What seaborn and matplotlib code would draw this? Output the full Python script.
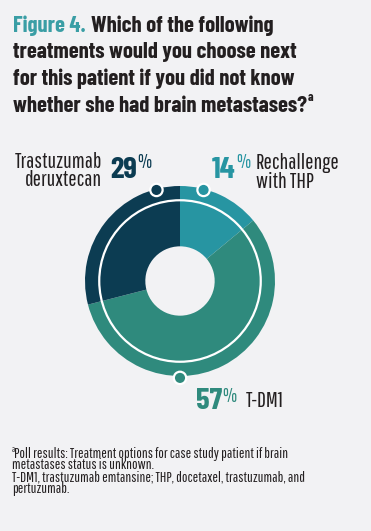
import matplotlib
matplotlib.use("Agg")
import matplotlib.pyplot as plt
from matplotlib import font_manager as fm
from matplotlib.patches import Circle
import numpy as np
import seaborn as sns

# ---------------- data ----------------
categories = ["Rechallenge\nwith THP", "T-DM1", "Trastuzumab\nderuxtecan"]
shares = [14, 57, 29]
pct_labels = ["14", "57", "29"]
title_lead = "Figure 4."
title_lines = ["Which of the following",
               "treatments would you choose next",
               "for this patient if you did not know",
               "whether she had brain metastases?"]
foot_mark = "a"
foot_lines = [" Poll results: Treatment options for case study patient if brain",
              "metastases status is unknown.",
              "T-DM1, trastuzumab emtansine; THP, docetaxel, trastuzumab, and",
              "pertuzumab."]

# ---------------- style ----------------
sns.set_theme(style="white")
BG = "#f2f2f4"
DARK = "#231f20"
seg_colors = ["#2795a2", "#2f8a7d", "#0c3c52"]
TITLE_TEAL = "#3a9ea5"


def pick(cands):
    for c in cands:
        try:
            fm.findfont(fm.FontProperties(family=c), fallback_to_default=False)
            return c
        except Exception:
            pass
    return "DejaVu Sans"


FONT = pick(["Barlow Condensed", "Fira Sans Extra Condensed", "Roboto Condensed",
             "Liberation Sans Narrow"])
LFONT = pick(["Pathway Gothic One", "Saira Extra Condensed", "Oswald",
              "Barlow Condensed", "Liberation Sans Narrow"])
plt.rcParams["font.family"] = [FONT, "DejaVu Sans"]

W, H = 371, 531
fig = plt.figure(figsize=(W / 100, H / 100), dpi=100, facecolor=BG)
renderer = fig.canvas.get_renderer()


def P(x, y):
    return x / W, 1 - y / H


def txt(x, y, s, **kw):
    kw.setdefault("va", "baseline")
    kw.setdefault("color", DARK)
    return fig.text(*P(x, y), s, **kw)


def right_of(t, gap_px):
    bb = t.get_window_extent(renderer=renderer)
    return bb.x1 + gap_px


def fit_size(s, target_px, family, weight="normal"):
    t = fig.text(0, 0, s, fontsize=10, family=family, fontweight=weight)
    w = t.get_window_extent(renderer=renderer).width
    t.remove()
    return 10 * target_px / w


def set_step(t, step_px):
    """tune linespacing so consecutive baselines are step_px apart"""
    lines = t.get_text().split("\n")
    n = len(lines)
    probe = fig.text(0, 0, lines[0], fontproperties=t.get_fontproperties())
    h_one = probe.get_window_extent(renderer=renderer).height
    probe.remove()
    ls = 1.0
    for _ in range(4):
        t.set_linespacing(ls)
        h_all = t.get_window_extent(renderer=renderer).height
        cur = (h_all - h_one) / (n - 1)
        ls *= step_px / cur


# ---------------- title ----------------
TS = 16.3
t0 = txt(13, 32, title_lead, fontsize=TS, fontweight="bold", color=TITLE_TEAL)
txt(right_of(t0, 5), 32, title_lines[0], fontsize=TS, fontweight="bold")
ys = [58.5, 85, 111.7]
for yy, line in zip(ys, title_lines[1:]):
    tl = txt(13, yy, line, fontsize=TS, fontweight="bold")
txt(right_of(tl, 1), 101, "a", fontsize=9, fontweight="bold")

# ---------------- donut ----------------
cx, cy, R = 180, 281, 95
lim = 1.1
half = lim * R
ax = fig.add_axes([(cx - half) / W, (H - cy - half) / H, 2 * half / W, 2 * half / H])
ax.set_facecolor(BG)
ax.pie(shares, colors=seg_colors, startangle=90, counterclock=False, radius=1.0,
       wedgeprops=dict(width=0.635, linewidth=0, edgecolor="none"))
ax.add_patch(Circle((0, 0), 0.85, fill=False, edgecolor="white", linewidth=1.6, zorder=5))
# label anchor dots (angle clockwise from top, degrees)
dot_angles = [14.5, 180, -14.5]
dot_r = [0.99, 1.02, 0.99]
for ang, rr, col in zip(dot_angles, dot_r, seg_colors):
    a = np.deg2rad(ang)
    ax.add_patch(Circle((rr * np.sin(a), rr * np.cos(a)), 0.065, facecolor=col,
                        edgecolor="white", linewidth=1.6, zorder=6))
ax.set_xlim(-lim, lim)
ax.set_ylim(-lim, lim)
ax.set_aspect("equal")
ax.axis("off")

# ---------------- labels ----------------
LS = fit_size("Trastuzumab", 87, LFONT)
NS = fit_size("29", 27, FONT, "bold")
PS = fit_size("%", 14, LFONT)
lab_kw = dict(fontsize=LS, family=[LFONT, "DejaVu Sans"])
pct_kw = dict(fontsize=PS, family=[LFONT, "DejaVu Sans"], va="top")

# 29% Trastuzumab deruxtecan
n29 = txt(110, 178, pct_labels[2], fontsize=NS, fontweight="bold", color=seg_colors[2])
txt(right_of(n29, 0.5), 152.5, "%", color=seg_colors[2], **pct_kw)
l29 = txt(102, 186, categories[2], ha="right", multialignment="right", **lab_kw)
set_step(l29, 18)

# 14% Rechallenge with THP
n14 = txt(212, 178, pct_labels[0], fontsize=NS, fontweight="bold", color=seg_colors[0])
txt(right_of(n14, 0.5), 152.5, "%", color=seg_colors[0], **pct_kw)
l14 = txt(256, 188, categories[0], **lab_kw)
set_step(l14, 19)

# 57% T-DM1
n57 = txt(196, 409, pct_labels[1], fontsize=NS, fontweight="bold", color=seg_colors[1])
txt(right_of(n57, 0.5), 386.5, "%", color=seg_colors[1], **pct_kw)
txt(246, 407, categories[1], **lab_kw)

# ---------------- footnote ----------------
FS = fit_size(foot_lines[0].strip(), 276, LFONT)
fn = txt(12, 492.5, "\n".join(foot_lines), fontsize=FS, family=[LFONT, "DejaVu Sans"])
set_step(fn, 11.5)
txt(11.5, 452, foot_mark, fontsize=FS * 0.55, family=[LFONT, "DejaVu Sans"])

fig.savefig("out.png", dpi=100, facecolor=BG)
